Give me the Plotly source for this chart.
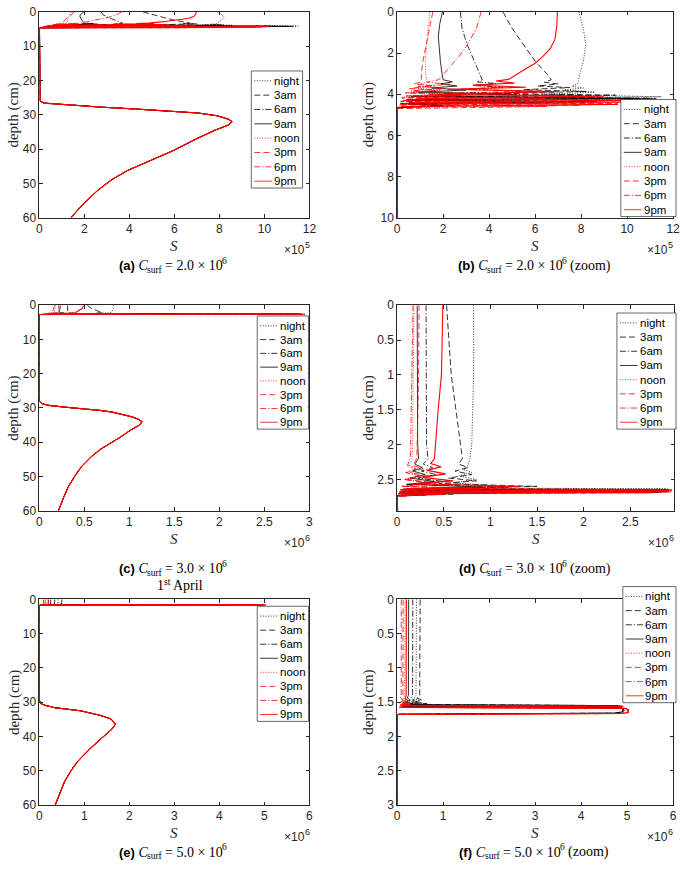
import plotly.graph_objects as go

W, H = 685, 875

# ---------------- labels / styles ----------------
time_labels = ["night", "3am", "6am", "9am", "noon", "3pm", "6pm", "9pm"]
line_colors = ["#000000"] * 4 + ["#ff0000"] * 4
line_dashes = ["1px,1.6px", "6px,3px", "6px,2px,1.2px,2px", "solid"] * 2
line_widths = [0.8] * 7 + [1.1]

# ---------------- Row 1: C_surf = 2.0e6 (S in units of 1e5) ----------------
night1_d = [0, 0.8, 1.6, 2.4, 3.0, 3.5, 3.62, 3.7, 3.8, 3.9, 4.0, 4.08, 4.13, 4.18, 4.23, 4.3, 4.38, 4.46, 4.55, 4.65]
night1_S = [7.9, 8.1, 8.2, 8.1, 7.95, 7.85, 7.6, 8.1, 7.2, 8.6, 6.5, 9.8, 11.5, 3.5, 10.5, 1.8, 6.0, 0.6, 2.0, 0.0]
threeam1_d = [0, 0.8, 1.6, 2.4, 3.0, 3.3, 3.42, 3.5, 3.6, 3.68, 3.78, 3.87, 3.96, 4.05, 4.12, 4.2, 4.28, 4.36, 4.45, 4.55, 4.65]
threeam1_S = [4.6, 5.0, 5.5, 6.0, 6.5, 6.7, 6.4, 7.0, 6.1, 7.5, 5.5, 8.2, 4.2, 9.5, 2.5, 11.0, 1.2, 8.5, 0.4, 2.5, 0.0]
sixam1_d = [0, 0.8, 1.6, 2.4, 3.0, 3.3, 3.4, 3.48, 3.58, 3.66, 3.76, 3.86, 3.96, 4.06, 4.14, 4.22, 4.3, 4.38, 4.47, 4.57, 4.67]
sixam1_S = [2.75, 2.82, 3.05, 3.35, 3.6, 3.7, 3.45, 4.3, 3.3, 4.6, 2.8, 6.0, 2.0, 8.0, 1.2, 11.3, 0.6, 8.8, 0.2, 2.0, 0.0]
nineam1_d = [0, 0.6, 1.2, 1.8, 2.4, 3.0, 3.3, 3.4, 3.5, 3.6, 3.7, 3.8, 3.9, 4.0, 4.1, 4.2, 4.28, 4.36, 4.45, 4.55, 4.65]
nineam1_S = [1.97, 1.85, 1.79, 1.82, 1.88, 1.95, 2.0, 2.4, 1.9, 2.6, 1.5, 3.0, 0.9, 5.0, 0.6, 10.3, 0.4, 8.0, 0.15, 1.8, 0.0]
noon1_d = [0, 0.8, 1.6, 2.4, 3.0, 3.4, 3.5, 3.6, 3.7, 3.8, 3.92, 4.02, 4.14, 4.24, 4.32, 4.4, 4.48, 4.56, 4.66]
noon1_S = [1.42, 1.35, 1.27, 1.22, 1.24, 1.3, 1.0, 1.7, 0.8, 1.9, 0.5, 3.0, 0.3, 6.0, 0.2, 9.8, 0.1, 7.0, 0.0]
threepm1_d = [0, 0.8, 1.6, 2.4, 3.0, 3.4, 3.5, 3.6, 3.72, 3.82, 3.94, 4.06, 4.18, 4.28, 4.36, 4.44, 4.52, 4.6, 4.7]
threepm1_S = [1.55, 1.4, 1.25, 1.12, 1.05, 1.05, 0.75, 1.5, 0.55, 1.7, 0.35, 2.8, 0.2, 7.0, 0.15, 9.6, 0.08, 6.5, 0.0]
sixpm1_d = [0, 0.8, 1.6, 2.15, 2.6, 2.95, 3.3, 3.42, 3.52, 3.62, 3.72, 3.84, 3.96, 4.08, 4.2, 4.3, 4.38, 4.46, 4.54, 4.62, 4.72]
sixpm1_S = [3.65, 3.45, 3.05, 2.7, 2.35, 2.06, 1.8, 1.3, 2.3, 0.9, 2.1, 0.6, 3.5, 0.4, 6.5, 0.25, 10.0, 0.15, 8.0, 0.05, 0.0]
ninepm1_d = [0, 0.7, 1.35, 1.8, 2.14, 2.5, 2.78, 3.05, 3.28, 3.36, 3.46, 3.56, 3.66, 3.76, 3.88, 4.0, 4.1, 4.2, 4.3, 4.4, 4.5, 4.6, 4.72]
ninepm1_S = [6.97, 6.94, 6.86, 6.65, 6.36, 6.0, 5.57, 5.2, 4.85, 4.3, 5.1, 3.3, 5.6, 2.2, 7.0, 1.4, 9.0, 0.8, 10.2, 0.5, 9.6, 0.2, 0.0]
deep1_d = [5.0, 25.5, 26.0, 26.6, 27.2, 27.8, 28.3, 28.9, 29.5, 30.3, 31.3, 32.0, 33.0, 34.5, 36.8, 40.6, 43.5, 46.3, 49.0, 52.0, 56.0, 60.0]
deep1_S = [0.0, 0.0, 0.03, 0.2, 1.3, 2.8, 4.2, 5.8, 7.05, 7.9, 8.4, 8.56, 8.4, 7.8, 7.05, 5.9, 4.9, 3.9, 3.2, 2.6, 1.95, 1.4]

# ---------------- Row 2: C_surf = 3.0e6 (S in units of 1e6) ----------------
night2_d = [0, 0.5, 1.0, 1.5, 2.0, 2.2, 2.3, 2.35, 2.4, 2.45, 2.5, 2.55, 2.6, 2.62, 2.635, 2.65, 2.665, 2.68, 2.7, 2.72]
night2_S = [0.82, 0.82, 0.82, 0.81, 0.8, 0.78, 0.76, 0.7, 0.8, 0.66, 0.85, 0.6, 1.2, 0.4, 2.9, 0.3, 2.95, 0.1, 1.0, 0.0]
threeam2_d = [0, 0.5, 1.0, 1.5, 2.0, 2.2, 2.28, 2.33, 2.38, 2.43, 2.48, 2.52, 2.56, 2.6, 2.63, 2.645, 2.66, 2.675, 2.69, 2.71, 2.73]
threeam2_S = [0.53, 0.555, 0.58, 0.63, 0.68, 0.7, 0.66, 0.76, 0.62, 0.8, 0.55, 0.85, 0.45, 1.5, 0.3, 2.92, 0.2, 2.9, 0.05, 0.6, 0.0]
sixam2_d = [0, 1.0, 2.0, 2.2, 2.28, 2.33, 2.38, 2.43, 2.48, 2.53, 2.57, 2.61, 2.635, 2.65, 2.665, 2.68, 2.695, 2.715, 2.735]
sixam2_S = [0.31, 0.31, 0.315, 0.33, 0.28, 0.38, 0.26, 0.42, 0.22, 0.5, 0.18, 1.2, 0.1, 2.9, 0.08, 2.85, 0.03, 0.4, 0.0]
nineam2_d = [0, 1.0, 2.0, 2.2, 2.28, 2.33, 2.38, 2.43, 2.48, 2.53, 2.57, 2.61, 2.64, 2.655, 2.67, 2.685, 2.7, 2.72, 2.74]
nineam2_S = [0.215, 0.215, 0.22, 0.23, 0.19, 0.27, 0.17, 0.3, 0.14, 0.4, 0.1, 0.9, 0.06, 2.88, 0.05, 2.8, 0.02, 0.3, 0.0]
noon2_d = [0, 1.0, 2.0, 2.2, 2.3, 2.35, 2.4, 2.45, 2.5, 2.55, 2.6, 2.63, 2.65, 2.665, 2.68, 2.69, 2.705, 2.725, 2.745]
noon2_S = [0.18, 0.175, 0.165, 0.16, 0.13, 0.22, 0.1, 0.25, 0.08, 0.35, 0.06, 0.8, 0.04, 2.9, 0.03, 2.7, 0.01, 0.2, 0.0]
threepm2_d = [0, 1.0, 2.0, 2.2, 2.3, 2.35, 2.4, 2.45, 2.5, 2.55, 2.6, 2.63, 2.65, 2.665, 2.68, 2.69, 2.705, 2.725, 2.745]
threepm2_S = [0.235, 0.23, 0.215, 0.21, 0.17, 0.28, 0.14, 0.33, 0.1, 0.42, 0.07, 1.0, 0.04, 2.92, 0.03, 2.75, 0.01, 0.25, 0.0]
sixpm2_d = [0, 1.0, 2.0, 2.2, 2.3, 2.35, 2.4, 2.45, 2.5, 2.55, 2.6, 2.63, 2.65, 2.665, 2.68, 2.69, 2.705, 2.725, 2.745]
sixpm2_S = [0.17, 0.16, 0.145, 0.14, 0.11, 0.2, 0.09, 0.24, 0.07, 0.32, 0.05, 0.7, 0.03, 2.9, 0.02, 2.7, 0.01, 0.2, 0.0]
ninepm2_d = [0, 0.5, 1.0, 1.5, 2.0, 2.2, 2.27, 2.32, 2.37, 2.42, 2.47, 2.52, 2.56, 2.6, 2.63, 2.65, 2.665, 2.68, 2.695, 2.715, 2.735]
ninepm2_S = [0.49, 0.485, 0.475, 0.44, 0.41, 0.4, 0.36, 0.47, 0.32, 0.52, 0.27, 0.6, 0.2, 1.3, 0.1, 2.95, 0.06, 2.93, 0.02, 0.5, 0.0]
deep2_d = [3.0, 28.0, 28.8, 29.3, 29.8, 30.2, 30.7, 31.2, 32.0, 32.6, 33.3, 34.0, 35.0, 36.5, 38.5, 40.3, 42.0, 44.1, 47.0, 50.0, 53.0, 56.0, 60.0]
deep2_S = [0.0, 0.0, 0.03, 0.12, 0.3, 0.49, 0.67, 0.81, 0.95, 1.03, 1.1, 1.14, 1.11, 1.01, 0.9, 0.78, 0.68, 0.58, 0.47, 0.39, 0.32, 0.27, 0.21]

# ---------------- Row 3: C_surf = 5.0e6 (S in units of 1e6) ----------------
black3_d = [0, 1.0, 1.40, 1.44, 1.47, 1.50, 1.52, 1.535, 1.55, 1.565, 1.58, 1.60, 1.64, 1.66, 1.675, 1.69]
night3_S = [0.42, 0.42, 0.41, 0.37, 0.47, 0.32, 0.6, 0.25, 4.85, 0.15, 4.9, 4.95, 4.95, 4.8, 0.05, 0.0]
threeam3_S = [0.5, 0.5, 0.49, 0.43, 0.55, 0.36, 0.65, 0.28, 4.8, 0.15, 4.85, 4.92, 4.92, 4.75, 0.05, 0.0]
sixam3_S = [0.34, 0.34, 0.335, 0.3, 0.38, 0.26, 0.45, 0.2, 4.8, 0.12, 4.85, 4.92, 4.92, 4.75, 0.04, 0.0]
nineam3_S = [0.25, 0.25, 0.245, 0.22, 0.29, 0.18, 0.35, 0.15, 4.75, 0.1, 4.85, 4.9, 4.9, 4.72, 0.03, 0.0]
red3_d = [0, 1.0, 1.40, 1.45, 1.48, 1.51, 1.53, 1.545, 1.56, 1.575, 1.59, 1.61, 1.65, 1.665, 1.68, 1.70]
noon3_S = [0.17, 0.17, 0.165, 0.14, 0.2, 0.11, 0.26, 0.08, 4.9, 0.06, 4.95, 5.0, 5.0, 4.85, 0.03, 0.0]
threepm3_S = [0.13, 0.13, 0.125, 0.1, 0.16, 0.08, 0.22, 0.06, 4.9, 0.05, 4.95, 5.02, 5.02, 4.88, 0.02, 0.0]
sixpm3_S = [0.09, 0.09, 0.088, 0.07, 0.12, 0.05, 0.18, 0.04, 4.9, 0.03, 4.95, 5.02, 5.02, 4.88, 0.02, 0.0]
ninepm3_S = [0.2, 0.2, 0.195, 0.17, 0.24, 0.13, 0.3, 0.1, 4.92, 0.07, 4.97, 5.03, 5.03, 4.9, 0.03, 0.0]
deep3_d = [1.8, 29.5, 30.3, 30.9, 31.6, 32.5, 33.8, 34.9, 36.4, 38.0, 39.7, 43.5, 47.4, 50.0, 53.1, 57.0, 60.0]
deep3_S = [0.0, 0.0, 0.02, 0.12, 0.34, 0.91, 1.34, 1.59, 1.69, 1.6, 1.45, 1.13, 0.84, 0.7, 0.56, 0.45, 0.35]

rows = [
    ([(night1_d, night1_S), (threeam1_d, threeam1_S), (sixam1_d, sixam1_S), (nineam1_d, nineam1_S),
      (noon1_d, noon1_S), (threepm1_d, threepm1_S), (sixpm1_d, sixpm1_S), (ninepm1_d, ninepm1_S)],
     deep1_d, deep1_S),
    ([(night2_d, night2_S), (threeam2_d, threeam2_S), (sixam2_d, sixam2_S), (nineam2_d, nineam2_S),
      (noon2_d, noon2_S), (threepm2_d, threepm2_S), (sixpm2_d, sixpm2_S), (ninepm2_d, ninepm2_S)],
     deep2_d, deep2_S),
    ([(black3_d, night3_S), (black3_d, threeam3_S), (black3_d, sixam3_S), (black3_d, nineam3_S),
      (red3_d, noon3_S), (red3_d, threepm3_S), (red3_d, sixpm3_S), (red3_d, ninepm3_S)],
     deep3_d, deep3_S),
]

# ---------------- panel layout (pixel boxes) ----------------
panels = [
    dict(row=0, box=(37, 311, 5, 214), xr=[0, 12], xt=2, yr=[60, 0], yt=10, leg=(252, 304, 65, 184)),
    dict(row=0, box=(400, 680, 5, 214), xr=[0, 12], xt=2, yr=[10, 0], yt=2, leg=(627, 683, 94, 213)),
    dict(row=1, box=(37, 311, 303, 512), xr=[0, 3], xt=0.5, yr=[60, 0], yt=10, leg=(258, 310, 314, 429)),
    dict(row=1, box=(400, 681, 303, 512), xr=[0, 2.97], xt=0.5, yr=[2.95, 0], yt=0.5, leg=(623, 683, 311, 429)),
    dict(row=2, box=(37, 311, 602, 811), xr=[0, 6], xt=1, yr=[60, 0], yt=10, leg=(258, 310, 609, 726)),
    dict(row=2, box=(400, 680, 602, 811), xr=[0, 6], xt=1, yr=[3, 0], yt=0.5, leg=(629, 683, 589, 707)),
]
exponents = ["5", "6", "6"]
xlabel_y = [243, 541, 839]
title_y = [263, 571, 859]
titles = [
    ("(a)", "2.0", ""), ("(b)", "2.0", "(zoom)"),
    ("(c)", "3.0", ""), ("(d)", "3.0", "(zoom)"),
    ("(e)", "5.0", ""), ("(f)", "5.0", "(zoom)"),
]
# approximate bold widths of the panel letters "(x) " at 13px (for centring only)
label_w = {"(a)": 19.4, "(b)": 20.1, "(c)": 19.4, "(d)": 20.1, "(e)": 19.4, "(f)": 16.3}

AX = "#262626"
SANS = "Liberation Sans"
SERIF = "Liberation Serif"


def px(x):
    return x / W


def py(y):
    return 1 - y / H


def note(x, y, text, font, xa="center", ya="middle", angle=0):
    return dict(x=px(x), y=py(y), xref="paper", yref="paper", xanchor=xa, yanchor=ya,
                text=text, showarrow=False, textangle=angle, font=font,
                borderpad=0, borderwidth=0)


fig = go.Figure()
layout = dict(
    width=W, height=H, margin=dict(l=0, r=0, t=0, b=0),
    paper_bgcolor="white", plot_bgcolor="white", showlegend=False,
)
shapes = []
annotations = []

for i, p in enumerate(panels):
    sfx = "" if i == 0 else str(i + 1)
    x0, x1, y0, y1 = p["box"]
    curves, dd, ds = rows[p["row"]]
    for k, (cd, cs) in enumerate(curves):
        fig.add_trace(go.Scatter(
            x=list(cs) + list(ds), y=list(cd) + list(dd), mode="lines",
            line=dict(color=line_colors[k], dash=line_dashes[k], width=line_widths[k]),
            name=time_labels[k], xaxis="x" + sfx, yaxis="y" + sfx,
            hoverinfo="skip",
        ))
    common = dict(showline=True, linecolor=AX, linewidth=0.7, mirror="ticks",
                  ticks="inside", ticklen=3.5, tickwidth=0.7, tickcolor=AX,
                  showgrid=False, zeroline=False,
                  tickfont=dict(family=SANS, size=12, color=AX))
    layout["xaxis" + sfx] = dict(common, domain=[px(x0), px(x1)], range=p["xr"],
                                 dtick=p["xt"], tick0=0, anchor="y" + sfx)
    layout["yaxis" + sfx] = dict(common, domain=[py(y1), py(y0)], range=p["yr"],
                                 dtick=p["yt"], tick0=0, anchor="x" + sfx)

    cx = (x0 + x1) / 2
    r = p["row"]
    annotations.append(note(cx, xlabel_y[r], "<i>S</i>", dict(family=SERIF, size=15, color=AX)))
    # "×10" with raised exponent, right-aligned to the axis end
    annotations.append(note(x1 - 5, xlabel_y[r] + 4, "×10", dict(family=SANS, size=12, color=AX), xa="right"))
    annotations.append(note(x1 - 5, xlabel_y[r] - 1, exponents[r], dict(family=SANS, size=9, color=AX), xa="left"))
    ylx = 11 if x0 < 100 else 371
    annotations.append(note(ylx, (y0 + y1) / 2, "depth (cm)",
                            dict(family=SERIF, size=15, color=AX), angle=-90))

    # caption: "(x) C" + small "surf" + "= v × 10" + small raised "6" + "(zoom)"
    lab, val, extra = titles[i]
    w1 = label_w[lab] + 9.3
    w_surf = 14.8
    gap = 3.5
    w_eq = 57.8
    w_exp = 4.8
    w_zoom = (gap + 40.4) if extra else 0
    total = w1 + w_surf + gap + w_eq + w_exp + w_zoom
    xs = cx - total / 2 + w1
    ty = title_y[r]
    serif_font = dict(family=SERIF, size=14, color="#000")
    annotations.append(note(xs, ty, "<b>" + lab + "</b> <span style='font-family:" + SERIF
                            + ";font-size:14px'><i>C</i></span>",
                            dict(family=SANS, size=13, color="#000"), xa="right"))
    annotations.append(note(xs - 1.5, ty + 4, "surf", dict(family=SERIF, size=9.5, color="#000"), xa="left"))
    xe = xs - 1.5 + w_surf + gap
    annotations.append(note(xe, ty, "= " + val + " × 10", serif_font, xa="left"))
    annotations.append(note(xe + w_eq, ty - 5, "6", dict(family=SERIF, size=9.5, color="#000"), xa="left"))
    if extra:
        annotations.append(note(xe + w_eq + w_exp + gap, ty, extra, serif_font, xa="left"))

    # legend box
    lx0, lx1, ly0, ly1 = p["leg"]
    shapes.append(dict(type="rect", xref="paper", yref="paper",
                       x0=px(lx0), x1=px(lx1), y0=py(ly1), y1=py(ly0),
                       line=dict(color=AX, width=0.7), fillcolor="white", layer="above"))
    pitch = (ly1 - ly0 - 17) / 7
    for k, lab_k in enumerate(time_labels):
        yy = ly0 + 10 + k * pitch
        shapes.append(dict(type="line", xref="paper", yref="paper",
                           x0=px(lx0 + 3), x1=px(lx0 + 21), y0=py(yy), y1=py(yy),
                           line=dict(color=line_colors[k], dash=line_dashes[k], width=0.8),
                           layer="above"))
        annotations.append(note(lx0 + 23, yy, lab_k, dict(family=SANS, size=11.5, color="#000"),
                                xa="left"))

# "1st April" with raised "st"
annotations.append(note(163, 588, "1", dict(family=SERIF, size=14, color="#000"), xa="right"))
annotations.append(note(163, 584, "st", dict(family=SERIF, size=9.5, color="#000"), xa="left"))
annotations.append(note(172.5, 588, "April", dict(family=SERIF, size=14, color="#000"), xa="left"))

layout["shapes"] = shapes
layout["annotations"] = annotations
fig.update_layout(**layout)
fig.write_html(
    "out.html",
    config={"displayModeBar": False},
    post_script="document.body.style.margin='0px';document.documentElement.style.overflow='hidden';",
)
